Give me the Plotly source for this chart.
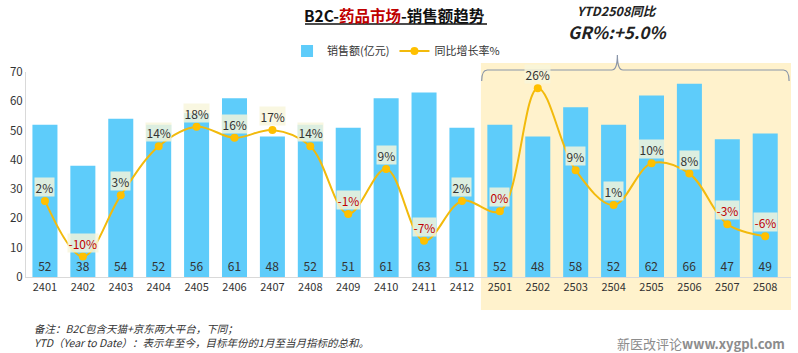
import plotly.graph_objects as go

months = ["2401", "2402", "2403", "2404", "2405", "2406", "2407", "2408", "2409", "2410",
          "2411", "2412", "2501", "2502", "2503", "2504", "2505", "2506", "2507", "2508"]
sales = [52, 38, 54, 52, 56, 61, 48, 52, 51, 61, 63, 51, 52, 48, 58, 52, 62, 66, 47, 49]
growth = [2.0, -10.0, 3.2, 13.8, 18.0, 15.6, 17.3, 13.8, -0.8, 8.9,
          -6.6, 2.0, -0.2, 26.3, 8.6, 1.1, 10.1, 7.9, -3.0, -5.6]
ytd_month = "2501"
ytd_line1 = "YTD2508同比"
ytd_line2 = "GR%:+5.0%"

FONT = "Noto Sans CJK SC, Noto Sans, sans-serif"
BAR_C = "rgb(94,204,250)"
LINE_C = "#F2BA0C"
MARK_C = "#FFC000"

fig = go.Figure()
fig.add_trace(go.Bar(
    x=months, y=sales, name="销售额(亿元)", marker=dict(color=BAR_C, line=dict(width=0)),
    text=[str(v) for v in sales], textposition="inside", insidetextanchor="start",
    textfont=dict(size=12, color="#333333"), constraintext="none", textangle=0,
))
fig.add_trace(go.Scatter(
    x=months, y=growth, name="同比增长率%", yaxis="y2", mode="lines+markers",
    line=dict(color=LINE_C, width=2, shape="spline", smoothing=1.0),
    marker=dict(color=MARK_C, size=8),
))

ann = []
for i, v in enumerate(growth):
    r = round(v)
    ann.append(dict(
        x=i, y=v, xref="x", yref="y2", text=f"{r}%", showarrow=False, yshift=14,
        xanchor="center", yanchor="middle",
        font=dict(size=12, color="#C00000" if v < 0 else "#333333", family=FONT),
        bgcolor="rgba(248,245,218,0.82)", borderpad=0.5,
    ))

i0 = months.index(ytd_month) - 0.5
x1 = len(months) - 1 + 0.68
xc = (i0 + x1) / 2 - 0.49

ann += [
    dict(x=0.482, y=1.278, xref="paper", yref="paper", showarrow=False,
         xanchor="center", yanchor="middle",
         text="<b>B2C-<span style='color:#C00000'>药品市场</span>-销售额趋势</b>",
         font=dict(size=15.5, color="#111111", family=FONT)),
    dict(x=xc, y=1.298, xref="x", yref="paper", showarrow=False,
         xanchor="center", yanchor="middle", borderpad=0,
         text=f"<b><i>{ytd_line1}</i></b>", font=dict(size=12.5, color="#222222", family=FONT)),
    dict(x=xc, y=1.2, xref="x", yref="paper", showarrow=False,
         xanchor="center", yanchor="middle", borderpad=0,
         text=f"<b><i>{ytd_line2}</i></b>", font=dict(size=17, color="#222222", family=FONT)),
    dict(x=0.0078, y=-0.283, xref="paper", yref="paper", showarrow=False,
         xanchor="left", yanchor="middle", align="left",
         text="<i>备注：B2C包含天猫+京东两大平台，下同；<br>"
              "YTD（Year to Date）：表示年至今，目标年份的1月至当月指标的总和。</i>",
         font=dict(size=10.5, color="#333333", family=FONT)),
    dict(x=0.9948, y=-0.322, xref="paper", yref="paper", showarrow=False,
         xanchor="right", yanchor="middle",
         text="新医改评论<b>www.xygpl.com</b>",
         font=dict(size=13, color="#8c8c8c", family=FONT)),
]

yl, yd, yn = 1.0098, 0.956, 1.083
xa0 = i0 + 0.02
xa1 = x1 - 0.05
bracket = (f"M {xa0},{yd} Q {xa0},{yl} {xa0+0.15},{yl} L {xc-0.15},{yl} "
           f"Q {xc},{yl} {xc},{yn} Q {xc},{yl} {xc+0.15},{yl} L {xa1-0.15},{yl} "
           f"Q {xa1},{yl} {xa1},{yd}")

shapes = [
    dict(type="rect", xref="x", yref="paper", x0=i0, x1=x1, y0=-0.161, y1=1.044,
         fillcolor="#FFF2CC", line=dict(width=0), layer="below"),
    dict(type="path", xref="x", yref="paper", path=bracket,
         line=dict(color="#8A95A8", width=1.2)),
    dict(type="line", xref="paper", yref="paper", x0=0.3647, x1=0.6026, y0=1.234, y1=1.234,
         line=dict(color="#111111", width=1.5)),
]

fig.update_layout(
    width=798, height=353, margin=dict(l=26, r=7, t=72, b=76),
    paper_bgcolor="white", plot_bgcolor="rgba(0,0,0,0)",
    font=dict(family=FONT, size=11, color="#404040"),
    bargap=0.34, showlegend=True,
    legend=dict(orientation="h", x=0.4837, xanchor="center", y=1.102, yanchor="middle",
                font=dict(size=11, color="#333333"), bgcolor="rgba(0,0,0,0)",
                itemwidth=30, tracegroupgap=0),
    xaxis=dict(type="category", range=[-0.5, x1], showgrid=False, showline=True,
               linecolor="#D9D9D9", tickfont=dict(size=11, color="#333333"), ticks=""),
    yaxis=dict(range=[0, 70], dtick=10, showgrid=False, showline=True, linecolor="#D9D9D9",
               zeroline=False, tickfont=dict(size=11.5, color="#333333"), ticks=""),
    yaxis2=dict(range=[-14.4, 29.8], overlaying="y", side="right", showticklabels=False,
                showline=False, ticks="", showgrid=False, zeroline=False),
    annotations=ann, shapes=shapes,
)

fig.write_html("out.html")
